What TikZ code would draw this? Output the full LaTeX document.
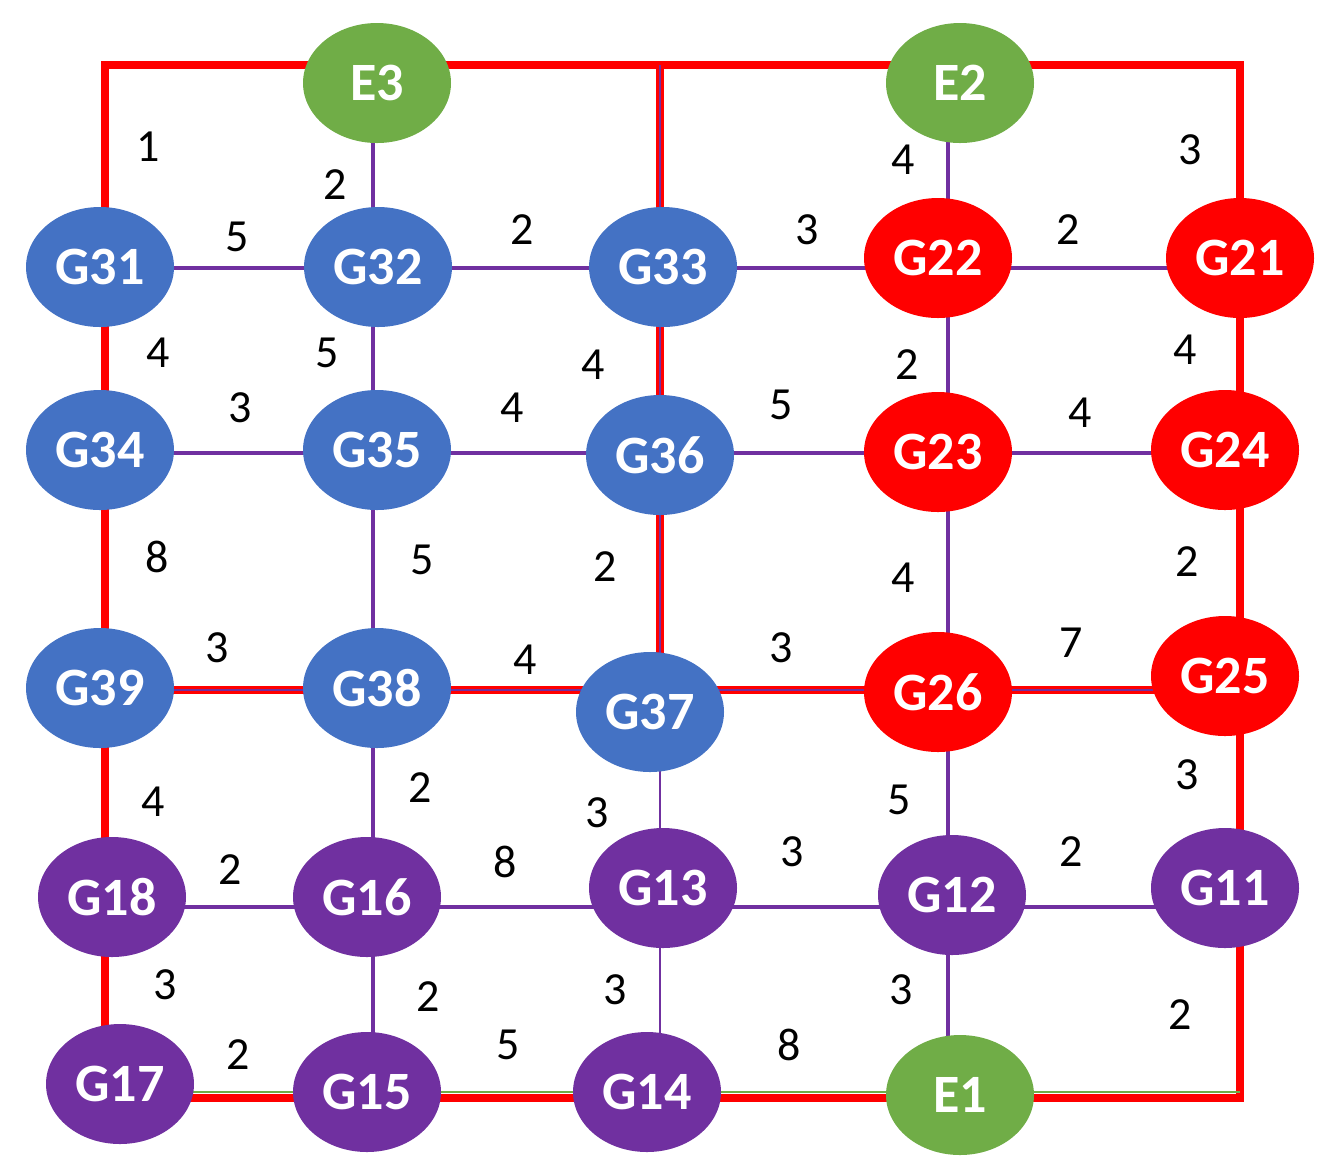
\documentclass[tikz,border=0pt]{standalone}
\usepackage{fontspec}
\setmainfont{Carlito}
\usetikzlibrary{shapes.geometric, backgrounds}

\definecolor{gblue}{HTML}{4472C4}
\definecolor{gred}{HTML}{FF0000}
\definecolor{gpurple}{HTML}{7030A0}
\definecolor{ggreen}{HTML}{70AD47}

\begin{document}
\begin{tikzpicture}[
    x=0.5pt, y=-0.5pt, % one unit is one pixel of the sketch
    gen/.style={ellipse, minimum width=74pt, minimum height=60pt, inner sep=0pt,
      text=white, font=\fontsize{27}{27}\selectfont\bfseries},
    area1/.style={gen, fill=gpurple},
    area2/.style={gen, fill=gred},
    area3/.style={gen, fill=gblue},
    tie/.style={gen, fill=ggreen},
    weight/.style={inner sep=0pt, font=\fontsize{23}{23}\selectfont},
    link/.style={draw=gpurple, line width=1.6pt},
    redline/.style={draw=gred, line width=4pt},
    mixed/.style={draw=gpurple, line width=1.4pt, preaction={draw=gred, line width=4pt}},
    greenline/.style={draw=ggreen, line width=1pt}]

  \useasboundingbox (0,0) rectangle (1328,1175);

  % Grid lines of the network
  \coordinate (cA) at (105,0);
  \coordinate (cB) at (373,0);
  \coordinate (cC) at (660,0);
  \coordinate (cD) at (948,0);
  \coordinate (cE) at (1240,0);
  \coordinate (rT) at (0,65);
  \coordinate (r1) at (0,268);
  \coordinate (r2) at (0,453);
  \coordinate (r3) at (0,690);
  \coordinate (r4) at (0,907);
  \coordinate (rB) at (0,1098);
  \coordinate (rG) at (0,1092);

  % Place exchange nodes
  \node (E3) [tie] at (377,83) {E3};
  \node (E2) [tie] at (960,83) {E2};
  \node (E1) [tie] at (960,1095) {E1};

  % Place nodes of area 3
  \node (G31) [area3] at (100,267) {G31};
  \node (G32) [area3] at (378,267) {G32};
  \node (G33) [area3] at (663,267) {G33};
  \node (G34) [area3] at (100,450) {G34};
  \node (G35) [area3] at (377,450) {G35};
  \node (G36) [area3] at (660,455) {G36};
  \node (G39) [area3] at (100,688) {G39};
  \node (G38) [area3] at (377,688) {G38};
  \node (G37) [area3] at (650,712) {G37};

  % Place nodes of area 2
  \node (G22) [area2] at (938,258) {G22};
  \node (G21) [area2] at (1240,258) {G21};
  \node (G23) [area2] at (938,452) {G23};
  \node (G24) [area2] at (1225,450) {G24};
  \node (G26) [area2] at (938,692) {G26};
  \node (G25) [area2] at (1225,676) {G25};

  % Place nodes of area 1
  \node (G18) [area1] at (112,897) {G18};
  \node (G16) [area1] at (367,897) {G16};
  \node (G13) [area1] at (663,888) {G13};
  \node (G12) [area1] at (952,895) {G12};
  \node (G11) [area1] at (1225,888) {G11};
  \node (G17) [area1] at (120,1084) {G17};
  \node (G15) [area1] at (367,1092) {G15};
  \node (G14) [area1] at (647,1092) {G14};

  \begin{scope}[on background layer]
    % Red border round the areas
    \draw [redline] (G31 -| cA) -- (cA |- rT) -- (E3 |- rT) -- (E2 |- rT) -- (cE |- rT) -- (G21 -| cE);
    \draw [redline] (cA |- G31) -- (cA |- G34) -- (cA |- G39) -- (cA |- G18) -- (cA |- G17);
    \draw [redline] (cE |- G21) -- (cE |- G24) -- (cE |- G25) -- (cE |- G11) -- (cE |- rB) -- (E1 |- rB);
    \draw [redline] (E1 |- rB) -- (G14 |- rB) -- (G15 |- rB) -- (G17 |- rB);
    \draw [greenline] (cE |- rG) -- (G17 |- rG);

    % Red border between area 3 and area 2 (purple line inside)
    \draw [mixed] (cC |- rT) -- (cC |- G33) -- (cC |- G36) -- (cC |- r3);
    \draw [mixed] (G39 |- r3) -- (G38 |- r3) -- (G37 |- r3) -- (G26 |- r3) -- (G25 |- r3);

    % Lines from the exchange nodes
    \draw [link] (cB |- E3) -- (cB |- G32);
    \draw [link] (cD |- E2) -- (cD |- G22);
    \draw [link] (cD |- G12) -- (cD |- E1);

    % Horizontal lines
    \draw [link] (G31 |- r1) -- (G32 |- r1);
    \draw [link] (G32 |- r1) -- (G33 |- r1);
    \draw [link] (G33 |- r1) -- (G22 |- r1);
    \draw [link] (G22 |- r1) -- (G21 |- r1);
    \draw [link] (G34 |- r2) -- (G35 |- r2);
    \draw [link] (G35 |- r2) -- (G36 |- r2);
    \draw [link] (G36 |- r2) -- (G23 |- r2);
    \draw [link] (G23 |- r2) -- (G24 |- r2);
    \draw [link] (G18 |- r4) -- (G16 |- r4);
    \draw [link] (G16 |- r4) -- (G13 |- r4);
    \draw [link] (G13 |- r4) -- (G12 |- r4);
    \draw [link] (G12 |- r4) -- (G11 |- r4);

    % Vertical lines
    \draw [link] (cB |- G32) -- (cB |- G35);
    \draw [link] (cB |- G35) -- (cB |- G38);
    \draw [link] (cB |- G38) -- (cB |- G16);
    \draw [link] (cB |- G16) -- (cB |- G15);
    \draw [link] (cD |- G22) -- (cD |- G23);
    \draw [link] (cD |- G23) -- (cD |- G26);
    \draw [link] (cD |- G26) -- (cD |- G12);
    \draw [link, line width=1pt] (cC |- G37) -- (cC |- G13);
    \draw [link, line width=1pt] (cC |- G13) -- (cC |- G14);
  \end{scope}

  % Weights, top rows
  \node (w01) [weight] at (148,147) {1};
  \node (w02) [weight] at (335,185) {2};
  \node (w03) [weight] at (903,160) {4};
  \node (w04) [weight] at (1190,150) {3};
  \node (w05) [weight] at (237,237) {5};
  \node (w06) [weight] at (522,230) {2};
  \node (w07) [weight] at (807,230) {3};
  \node (w08) [weight] at (1068,230) {2};
  \node (w09) [weight] at (158,353) {4};
  \node (w10) [weight] at (327,353) {5};
  \node (w11) [weight] at (593,365) {4};
  \node (w12) [weight] at (907,365) {2};
  \node (w13) [weight] at (1185,350) {4};
  \node (w14) [weight] at (240,408) {3};
  \node (w15) [weight] at (512,408) {4};
  \node (w16) [weight] at (781,405) {5};
  \node (w17) [weight] at (1080,413) {4};

  % Weights, middle rows
  \node (w18) [weight] at (157,557) {8};
  \node (w19) [weight] at (422,560) {5};
  \node (w20) [weight] at (605,567) {2};
  \node (w21) [weight] at (903,578) {4};
  \node (w22) [weight] at (1187,562) {2};
  \node (w23) [weight] at (217,648) {3};
  \node (w24) [weight] at (525,660) {4};
  \node (w25) [weight] at (781,648) {3};
  \node (w26) [weight] at (1071,643) {7};
  \node (w27) [weight] at (153,802) {4};
  \node (w28) [weight] at (420,788) {2};
  \node (w29) [weight] at (597,813) {3};
  \node (w30) [weight] at (899,800) {5};
  \node (w31) [weight] at (1187,775) {3};

  % Weights, bottom rows
  \node (w32) [weight] at (230,870) {2};
  \node (w33) [weight] at (505,862) {8};
  \node (w34) [weight] at (792,852) {3};
  \node (w35) [weight] at (1071,852) {2};
  \node (w36) [weight] at (165,985) {3};
  \node (w37) [weight] at (428,997) {2};
  \node (w38) [weight] at (615,990) {3};
  \node (w39) [weight] at (901,990) {3};
  \node (w40) [weight] at (1180,1015) {2};
  \node (w41) [weight] at (238,1055) {2};
  \node (w42) [weight] at (508,1045) {5};
  \node (w43) [weight] at (789,1045) {8};
\end{tikzpicture}
\end{document}
